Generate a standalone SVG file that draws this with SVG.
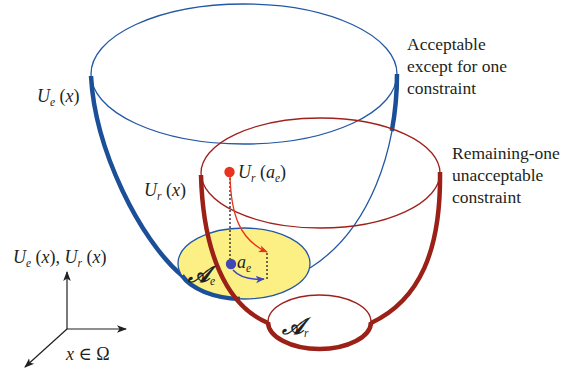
<svg xmlns="http://www.w3.org/2000/svg" width="582" height="375" viewBox="0 0 582 375">
  <defs>
    <style>
      .thinB { fill: none; stroke: #2358a5; stroke-width: 1.3; }
      .thickB { fill: none; stroke: #1b4f98; stroke-width: 4.5; stroke-linecap: butt; }
      .thinR { fill: none; stroke: #a0201c; stroke-width: 1.3; }
      .thickR { fill: none; stroke: #9b2118; stroke-width: 4.5; stroke-linecap: butt; }
      .dot { fill: none; stroke: #231f20; stroke-width: 1.3; stroke-dasharray: 2 2; }
      .ax { fill: none; stroke: #231f20; stroke-width: 1.2; }
      .it { font-style: italic; }
      .sub { font-style: italic; font-size: 11.5px; }
      .note { font-size: 17.5px; }
      .scr { font-weight: bold; font-style: italic; font-size: 23px; }
    </style>
    <marker id="ahRed" viewBox="0 0 10 10" refX="9" refY="5" markerWidth="9" markerHeight="9" markerUnits="userSpaceOnUse" orient="auto">
      <path d="M0,1 L10,5 L0,9 L2.5,5 z" fill="#e8341f"/>
    </marker>
    <marker id="ahBlue" viewBox="0 0 10 10" refX="9" refY="5" markerWidth="9" markerHeight="9" markerUnits="userSpaceOnUse" orient="auto">
      <path d="M0,1 L10,5 L0,9 L2.5,5 z" fill="#3f48b4"/>
    </marker>
    <marker id="ahBlack" viewBox="0 0 10 10" refX="9" refY="5" markerWidth="10" markerHeight="10" markerUnits="userSpaceOnUse" orient="auto">
      <path d="M0,1.2 L10,5 L0,8.8 L2.5,5 z" fill="#231f20"/>
    </marker>
  </defs>

  <!-- Acceptable-except-one bowl U_e -->
  <g id="bowl-Ue">
    <ellipse class="thinB" cx="244" cy="74" rx="153" ry="70"/>
    <path class="thinB" d="M397,74 C397,150 370,230 310,268"/>
    <path class="thickB" d="M397,74 C397,93 395.3,112.25 391.8,131"/>
    <path class="thickB" d="M91,76 C95,150 140,240 182,275.6"/>
  </g>

  <!-- Admissible set A_e -->
  <g id="set-Ae">
    <ellipse cx="244" cy="263.5" rx="66" ry="35.5" fill="#fcef84" stroke="#2358a5" stroke-width="1.3"/>
    <path class="thickB" d="M182,275.6 A66,35.5 0 0 0 240,299"/>
  </g>

  <!-- Remaining-one bowl U_r -->
  <g id="bowl-Ur">
    <ellipse class="thinR" cx="320.5" cy="173" rx="119.5" ry="55"/>
    <path class="thickR" d="M201,175 C203,250 225,305 268,323"/>
    <path class="thickR" d="M440,172 C441,250 420,300 371,323"/>
  </g>

  <!-- Set A_r -->
  <g id="set-Ar">
    <ellipse class="thinR" cx="319.5" cy="322" rx="51.5" ry="27" fill="#ffffff"/>
    <path class="thickR" d="M268,322 A51.5,27 0 0 0 371,322"/>
  </g>

  <!-- connectors -->
  <g id="connectors">
    <path class="dot" d="M230,178 V259"/>
    <path class="dot" d="M267,253 V280"/>
    <path d="M230,176 C231,215 240,240 267,252" fill="none" stroke="#e8341f" stroke-width="1.3" marker-end="url(#ahRed)"/>
    <path d="M233,270 C240,278 250,280 264,279" fill="none" stroke="#3f48b4" stroke-width="1.5" marker-end="url(#ahBlue)"/>
  </g>

  <g font-family="'Liberation Serif', 'DejaVu Serif', 'Times New Roman', serif" font-size="18" fill="#231f20">
    <!-- points -->
    <g id="point-Ur-ae">
      <circle cx="229.5" cy="172" r="5.2" fill="#e8341f"/>
      <text x="238" y="178"><tspan class="it">U</tspan><tspan class="sub" dy="4">r</tspan><tspan dy="-4"> (</tspan><tspan class="it">a</tspan><tspan class="sub" dy="4">e</tspan><tspan dy="-4">)</tspan></text>
    </g>
    <g id="point-ae">
      <circle cx="231" cy="264" r="5.2" fill="#3f48b4"/>
      <text x="237" y="268"><tspan class="it">a</tspan><tspan class="sub" dy="4">e</tspan></text>
    </g>

    <!-- labels -->
    <g id="labels">
      <text x="37" y="102"><tspan class="it">U</tspan><tspan class="sub" dy="4">e</tspan><tspan dy="-4"> (</tspan><tspan class="it">x</tspan>)</text>
      <text x="144" y="196"><tspan class="it">U</tspan><tspan class="sub" dy="4" font-size="13">r</tspan><tspan dy="-4"> (</tspan><tspan class="it">x</tspan>)</text>
      <text class="note" x="407" y="50">Acceptable</text>
      <text class="note" x="407" y="72">except for one</text>
      <text class="note" x="407" y="94">constraint</text>
      <text class="note" x="452" y="159">Remaining-one</text>
      <text class="note" x="452" y="181">unacceptable</text>
      <text class="note" x="452" y="203">constraint</text>
      <text x="188" y="282"><tspan class="scr">𝒜</tspan><tspan class="sub" dy="3">e</tspan></text>
      <text x="282" y="334"><tspan class="scr">𝒜</tspan><tspan class="sub" dy="3">r</tspan></text>
    </g>

    <!-- axes -->
    <g id="axes">
      <path class="ax" d="M67,329 V272" marker-end="url(#ahBlack)"/>
      <path class="ax" d="M67,329 H126" marker-end="url(#ahBlack)"/>
      <path class="ax" d="M67,329 L25,367" marker-end="url(#ahBlack)"/>
      <text x="13" y="263"><tspan class="it">U</tspan><tspan class="sub" dy="4">e</tspan><tspan dy="-4"> (</tspan><tspan class="it">x</tspan>), <tspan class="it">U</tspan><tspan class="sub" dy="4">r</tspan><tspan dy="-4"> (</tspan><tspan class="it">x</tspan>)</text>
      <text x="66" y="360"><tspan class="it">x</tspan> ∈ Ω</text>
    </g>
  </g>
</svg>
